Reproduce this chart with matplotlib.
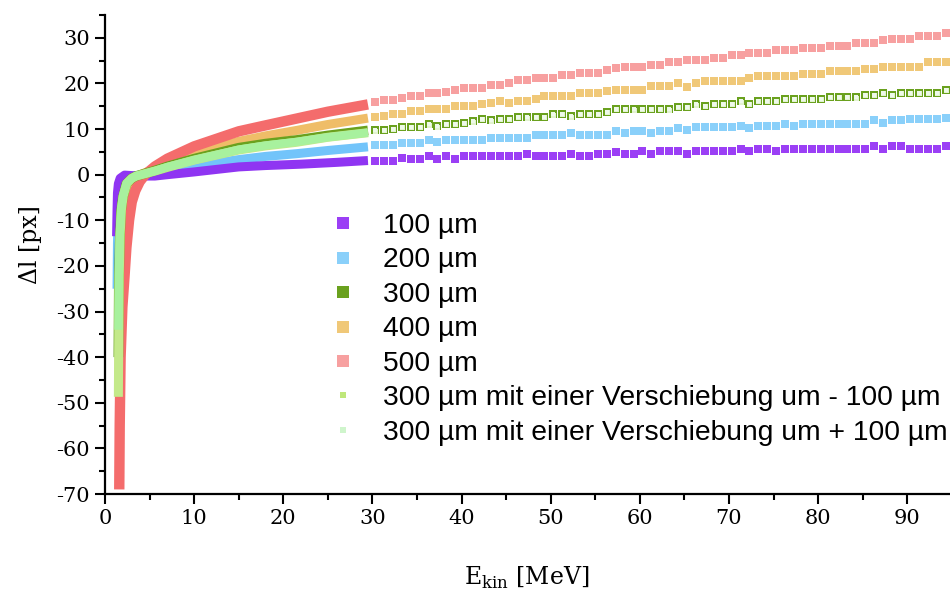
import matplotlib
matplotlib.use("Agg")
import matplotlib.pyplot as plt
from matplotlib.lines import Line2D
from matplotlib.ticker import MultipleLocator
import numpy as np

plt.rcParams['mathtext.fontset'] = 'custom'
plt.rcParams['mathtext.rm'] = 'DejaVu Serif'
plt.rcParams['axes.unicode_minus'] = False

# Messwerte: dichter Bereich (1 - 30 MeV) und Einzelpunkte (30 - 95 MeV, 1 MeV Schritt)
purple_dense_x = [1.3, 1.35, 1.4, 1.5, 1.7, 2.2, 3.0, 4.0, 5.6, 7.0, 10, 15, 18, 22, 26, 29.5]
purple_dense_y = [-13.5, -8, -4, -2, -0.8, -0.1, -0.2, -0.3, -0.3, 0.0, 0.6, 1.7, 2.0, 2.3, 2.7, 3.1]
blue_dense_x = [1.35, 1.4, 1.5, 1.6, 1.8, 2.2, 2.8, 3.5, 5, 7, 10, 15, 18, 21.5, 25, 29.5]
blue_dense_y = [-25, -15, -8, -4, -2, -1, -0.5, -0.2, 0.3, 0.9, 1.9, 3.3, 4.0, 4.6, 5.3, 6.1]
green_dense_x = [1.5, 1.55, 1.65, 1.8, 2.0, 2.4, 3.0, 3.5, 5.6, 7, 10, 15, 18, 21.5, 25, 29.5]
green_dense_y = [-40, -25, -15, -8, -5, -2, -0.8, -0.3, 0.9, 1.8, 3.5, 5.9, 6.8, 7.6, 8.6, 9.7]
minus_dense_x = [1.5, 1.55, 1.6, 1.7, 1.85, 2.05, 2.45, 3.0, 3.5, 5.6, 7, 10, 15, 18, 21.5, 25, 29.5]
minus_dense_y = [-48.7, -34, -22, -13, -7.5, -4.6, -1.9, -0.8, -0.3, 0.8, 1.6, 3.2, 5.4, 6.3, 7.1, 8.2, 9.2]
plus_dense_x = [1.5, 1.55, 1.65, 1.8, 2.0, 2.4, 3.0, 3.5, 5.6, 7, 10, 15, 18, 21.5, 25, 29.5]
plus_dense_y = [-34, -22, -13, -7.5, -4.7, -1.9, -0.8, -0.3, 0.8, 1.7, 3.2, 5.5, 6.4, 7.2, 8.2, 9.2]
yellow_dense_x = [1.55, 1.6, 1.7, 1.85, 2.1, 2.5, 3.0, 3.6, 4.2, 5.6, 7, 10, 15, 18, 21.5, 25, 29.5]
yellow_dense_y = [-48, -35, -22, -12, -7, -3.5, -1.6, -0.4, 0.2, 1.3, 2.5, 4.6, 7.3, 8.5, 9.7, 11.0, 12.4]
red_dense_x = [1.6, 1.65, 1.75, 1.95, 2.2, 2.4, 2.7, 3.0, 3.4, 3.9, 4.5, 5.6, 7, 10, 15, 18, 21.5, 25, 29.5]
red_dense_y = [-69, -55, -40, -29, -22, -16, -10, -6, -3.5, -1.5, 0, 1.8, 3.5, 6.2, 9.5, 10.8, 12.3, 13.8, 15.4]

sparse_start = 30.3  # erster Einzelpunkt, danach alle 1 MeV
purple_sparse = [2.9, 2.9, 2.9, 3.7, 3.5, 3.5, 4.0, 3.5, 4.0, 3.5, 4.0, 4.0, 4.0, 4.0, 4.0, 4.0, 4.0,
                 4.6, 4.0, 4.0, 4.0, 4.0, 4.6, 4.0, 4.0, 4.5,
                 4.6, 4.9, 4.5, 4.5, 5.1, 4.6, 5.1, 5.1, 5.1, 4.6, 5.1, 5.1, 5.1, 5.1, 5.1, 5.6,
                 5.1, 5.6, 5.6, 5.1, 5.6, 5.6, 5.6, 5.6, 5.6, 5.6, 5.6, 5.6, 5.6, 5.6, 6.2, 5.6,
                 6.2, 6.2, 5.6, 5.6, 5.6, 5.6, 6.2]
blue_sparse = [6.4, 6.4, 6.6, 6.9, 6.9, 6.9, 7.5, 7.1, 7.5, 7.5, 7.5, 7.5, 7.5, 8.0, 8.0, 8.0, 8.0,
               8.0, 8.6, 8.6, 8.6, 8.6, 9.1, 8.6, 8.6, 8.6,
               8.8, 9.5, 9.1, 9.6, 9.6, 9.1, 9.6, 9.6, 10.2, 9.9, 10.4, 10.4, 10.4, 10.4, 10.4,
               10.7, 10.2, 10.7, 10.7, 10.7, 11.2, 10.7, 11.2, 11.2, 11.2, 11.2, 11.2, 11.2, 11.2,
               11.2, 11.9, 11.3, 11.9, 11.9, 12.3, 12.3, 12.3, 12.3, 12.4]
green_sparse = [9.7, 9.9, 10.0, 10.5, 10.5, 10.5, 11.0, 10.6, 11.1, 11.1, 11.3, 11.7, 12.1, 11.9,
                12.2, 12.2, 12.6, 12.6, 12.6, 12.6, 13.2, 13.2, 12.8, 13.2, 13.2, 13.2,
                13.7, 14.3, 14.3, 14.3, 14.4, 14.4, 14.4, 14.3, 14.8, 14.8, 15.4, 15.0, 15.5, 15.5,
                15.5, 16.1, 15.5, 16.1, 16.1, 16.1, 16.6, 16.6, 16.6, 16.6, 16.6, 17.0, 17.0, 17.0,
                17.0, 17.5, 17.5, 17.9, 17.5, 18.0, 18.0, 18.0, 18.0, 18.0, 18.6]
minus_sparse = [9.6, 9.9, 10.0, 10.4, 10.5, 10.5, 10.9, 10.5, 11.1, 11.1, 11.3, 11.6, 12.1, 11.8,
                12.2, 12.2, 12.6, 12.5, 12.6, 12.6, 13.1, 13.2, 12.7, 13.2, 13.2, 13.2,
                13.7, 14.3, 14.3, 14.2, 14.4, 14.4, 14.4, 14.2, 14.8, 14.8, 15.3, 15.0, 15.5, 15.5,
                15.5, 16.0, 15.5, 16.1, 16.1, 16.1, 16.6, 16.6, 16.5, 16.6, 16.6, 17.0, 17.0, 17.0,
                16.9, 17.5, 17.5, 17.8, 17.4, 18.0, 18.0, 18.0, 18.0, 18.0, 18.6]
plus_sparse = [9.7, 9.9, 10.0, 10.5, 10.5, 10.5, 11.0, 10.6, 11.1, 11.1, 11.3, 11.7, 12.1, 11.9,
               12.2, 12.2, 12.6, 12.6, 12.6, 12.6, 13.2, 13.2, 12.8, 13.2, 13.2, 13.2,
               13.7, 14.3, 14.3, 14.3, 14.4, 14.4, 14.4, 14.3, 14.8, 14.8, 15.4, 15.0, 15.5, 15.5,
               15.5, 16.1, 15.5, 16.1, 16.1, 16.1, 16.6, 16.6, 16.6, 16.6, 16.6, 17.0, 17.0, 17.0,
               17.0, 17.5, 17.5, 17.9, 17.5, 18.0, 18.0, 18.0, 18.0, 18.0, 18.6]
yellow_sparse = [12.6, 12.8, 13.4, 13.4, 13.9, 13.9, 14.4, 14.4, 14.4, 15.0, 15.0, 15.0, 15.6, 15.7,
                 16.1, 15.7, 16.2, 16.2, 16.6, 17.2, 17.2, 17.2, 17.2, 17.8, 17.8, 17.8,
                 18.4, 18.6, 18.6, 18.6, 18.6, 19.5, 19.5, 19.5, 20.1, 19.3, 20.1, 20.6, 20.6, 20.6,
                 20.6, 20.6, 21.1, 21.6, 21.6, 21.6, 21.6, 21.6, 22.1, 22.1, 22.1, 22.7, 22.7, 22.7,
                 22.7, 23.2, 23.2, 23.7, 23.7, 23.7, 23.7, 23.7, 24.8, 24.8, 24.8]
red_sparse = [15.9, 16.3, 16.3, 16.8, 17.3, 17.3, 17.9, 17.9, 18.1, 18.5, 19.0, 19.0, 19.0, 19.6,
              19.7, 20.2, 20.7, 20.7, 21.2, 21.2, 21.2, 21.8, 21.8, 22.3, 22.3, 22.3,
              23.0, 23.4, 23.5, 23.5, 23.5, 24.0, 24.0, 24.6, 24.6, 25.1, 25.1, 25.1, 25.6, 25.6,
              26.3, 26.3, 26.7, 26.7, 26.7, 27.3, 27.3, 27.3, 27.8, 27.8, 27.8, 28.3, 28.3, 28.3,
              28.9, 28.9, 28.9, 29.5, 29.8, 29.8, 29.8, 30.5, 30.5, 30.5, 31.1]

labels = ['100 µm', '200 µm', '300 µm', '400 µm', '500 µm',
          '300 µm mit einer Verschiebung um - 100 µm',
          '300 µm mit einer Verschiebung um + 100 µm']
# Farben (Legende / Einzelpunkte) und etwas kräftiger für das dichte Band
c_purple, c_blue, c_green, c_yellow, c_red = '#9b3ff5', '#8ad0fa', '#6aa11e', '#f0c878', '#f7a0a0'
c_minus, c_plus = '#bfe77a', '#cff5cc'
band_purple, band_blue, band_yellow, band_red = '#8f35f2', '#72c4fa', '#efbd68', '#f46c6c'
band_minus, band_plus = '#c4e98a', '#a8f19e'


def sx(vals):
    return sparse_start + np.arange(len(vals))


fig = plt.figure(figsize=(9.5, 5.92), dpi=100)
ax = fig.add_axes([105 / 950, 98 / 592, 845 / 950, 479 / 592])

band = dict(solid_capstyle='butt', solid_joinstyle='round')
ms = 5.6
# dichte Bänder
ax.plot(yellow_dense_x, yellow_dense_y, color=band_yellow, lw=6.5, zorder=2, **band)
ax.plot(blue_dense_x, blue_dense_y, color=band_blue, lw=6.5, zorder=2, **band)
ax.plot(purple_dense_x, purple_dense_y, color=band_purple, lw=6.5, zorder=2, **band)
ax.plot(red_dense_x, red_dense_y, color=band_red, lw=7.5, zorder=2.5, **band)
ax.plot(green_dense_x, green_dense_y, color=c_green, lw=7, zorder=3, **band)
ax.plot(minus_dense_x, minus_dense_y, color=band_minus, lw=6.5, zorder=3, **band)
ax.plot(plus_dense_x, plus_dense_y, color=band_plus, lw=6, zorder=3, **band)

# Einzelpunkte
for vals, c in [(purple_sparse, c_purple), (blue_sparse, c_blue), (green_sparse, c_green),
                (yellow_sparse, c_yellow), (red_sparse, c_red)]:
    ax.plot(sx(vals), vals, 's', color=c, ms=ms, mew=0, zorder=3)
ax.plot(sx(minus_sparse), minus_sparse, 's', color='#e2f3cf', ms=3.6, mew=0, zorder=4)
ax.plot(sx(plus_sparse), plus_sparse, 's', color='#eef9ea', ms=3.2, mew=0, zorder=4)

ax.set_xlim(0, 94.8)
ax.set_ylim(-70, 35)
for s in ['top', 'right']:
    ax.spines[s].set_visible(False)
for s in ['left', 'bottom']:
    ax.spines[s].set_linewidth(1.6)
ax.xaxis.set_major_locator(MultipleLocator(10))
ax.xaxis.set_minor_locator(MultipleLocator(5))
ax.yaxis.set_major_locator(MultipleLocator(10))
ax.yaxis.set_minor_locator(MultipleLocator(5))
ax.set_yticks(np.arange(-70, 31, 10))
ax.tick_params(which='major', direction='out', length=7, width=1.5, labelsize=15, pad=4)
ax.tick_params(which='minor', direction='out', length=4, width=1.5)
for t in ax.get_xticklabels() + ax.get_yticklabels():
    t.set_fontfamily('DejaVu Serif')

ax.set_xlabel('E$_{\\mathrm{kin}}$ [MeV]', fontsize=17, family='DejaVu Serif')
ax.set_ylabel('Δl [px]', fontsize=17, family='DejaVu Serif')
ax.xaxis.set_label_coords(0.4994, -0.148)
ax.yaxis.set_label_coords(-0.0746, 0.52)

handles = [Line2D([], [], ls='none', marker='s', ms=8.5, mew=0, color=c)
           for c in [c_purple, c_blue, c_green, c_yellow, c_red]]
handles.append(Line2D([], [], ls='none', marker='s', ms=5, mew=0, color=c_minus))
handles.append(Line2D([], [], ls='none', marker='s', ms=4.5, mew=0, color=c_plus))
leg = ax.legend(handles, labels, loc='upper left', frameon=False, borderpad=0, borderaxespad=0,
                handlelength=1.0, handletextpad=0.9, labelspacing=0.3,
                prop={'family': 'Liberation Sans', 'size': 20.3})
leg.set_bbox_to_anchor((329 / 950, (592 - 213) / 592), transform=fig.transFigure)

fig.savefig('out.png', dpi=100)
